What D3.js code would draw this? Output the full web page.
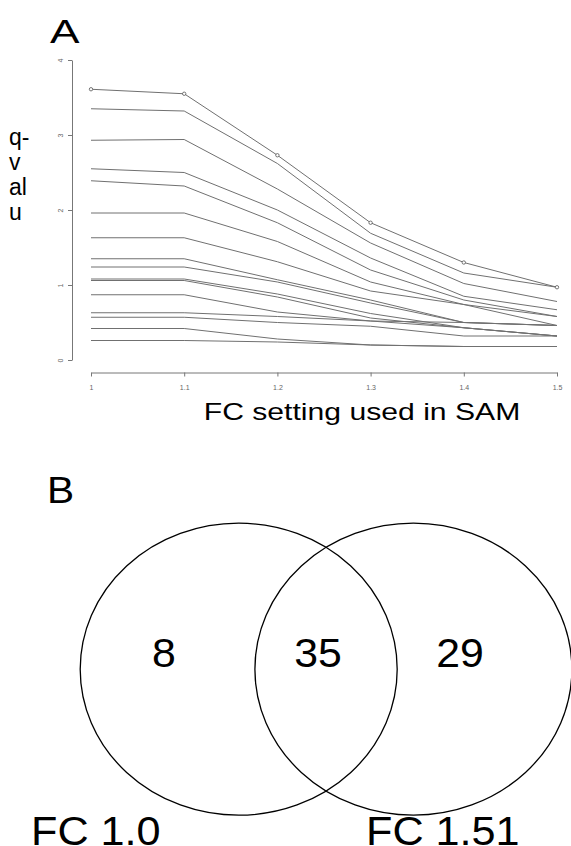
<!DOCTYPE html>
<html>
<head>
<meta charset="utf-8">
<script src="https://cdn.jsdelivr.net/npm/d3@7/dist/d3.min.js"></script>
<style>
  html, body { margin: 0; padding: 0; background: #fff; }
  svg { display: block; }
  text { font-family: "Liberation Sans", Arial, sans-serif; }
</style>
</head>
<body>
<svg id="chart" width="571" height="846"></svg>
<script>
// ---------- Data ----------
const fcSettings = [1, 1.1, 1.2, 1.3, 1.4, 1.5];
const xTickLabels = ["1", "1.1", "1.2", "1.3", "1.4", "1.5"];
const yTicks = [0, 1, 2, 3, 4];
// q-values for each gene across FC settings
const qValues = [
  [3.61, 3.55, 2.73, 1.83, 1.30, 0.97],
  [3.35, 3.32, 2.62, 1.69, 1.16, 0.97],
  [2.93, 2.94, 2.28, 1.56, 1.02, 0.78],
  [2.55, 2.50, 2.00, 1.36, 0.85, 0.67],
  [2.39, 2.32, 1.83, 1.20, 0.80, 0.58],
  [1.96, 1.96, 1.58, 1.04, 0.74, 0.58],
  [1.63, 1.63, 1.31, 0.92, 0.74, 0.46],
  [1.35, 1.35, 1.07, 0.80, 0.50, 0.46],
  [1.24, 1.24, 1.04, 0.76, 0.50, 0.46],
  [1.08, 1.08, 0.88, 0.62, 0.43, 0.32],
  [1.06, 1.06, 0.84, 0.56, 0.43, 0.32],
  [0.87, 0.87, 0.64, 0.52, 0.43, 0.32],
  [0.63, 0.63, 0.58, 0.52, 0.50, 0.46],
  [0.57, 0.57, 0.50, 0.45, 0.32, 0.32],
  [0.42, 0.42, 0.28, 0.20, 0.18, 0.18],
  [0.26, 0.26, 0.24, 0.20, 0.18, 0.18]
];
const markedSeries = [0];
const yLabelLines = ["q-", "v", "al", "u"];
const xTitle = "FC setting used in SAM";

const vennCounts = [8, 35, 29];           // only FC1.0, both, only FC1.51
const vennSetLabels = ["FC 1.0", "FC 1.51"];

// ---------- Panel A ----------
const svg = d3.select("#chart");
const x = d3.scaleLinear().domain([1, 1.5]).range([91, 557]);
const y = d3.scaleLinear().domain([0, 4]).range([360, 60]);

svg.append("text").text("A")
  .attr("transform", "translate(50,43) scale(1.3,1)")
  .attr("font-size", 34).attr("fill", "#000");

// y label (broken into lines)
svg.append("g").selectAll("text").data(yLabelLines).join("text")
  .attr("x", 9).attr("y", (d, i) => 145 + i * 25)
  .attr("font-size", 23).attr("fill", "#000")
  .text(d => d);

const axisColor = "#777";
const gx = svg.append("g").attr("transform", `translate(0,${y(0) + 12.5})`)
  .call(d3.axisBottom(x).tickValues(fcSettings).tickFormat((d, i) => xTickLabels[i])
    .tickSize(4).tickSizeOuter(0));
gx.select(".domain").attr("stroke", axisColor);
gx.selectAll(".tick line").attr("stroke", axisColor);
gx.selectAll(".tick text").attr("font-size", 7).attr("fill", "#666").attr("y", 13)
  .attr("font-family", "Liberation Sans, Arial, sans-serif");

const gy = svg.append("g").attr("transform", `translate(72,0)`)
  .call(d3.axisLeft(y).tickValues(yTicks).tickFormat(d3.format("d"))
    .tickSize(4).tickSizeOuter(0));
gy.select(".domain").attr("stroke", axisColor);
gy.selectAll(".tick line").attr("stroke", axisColor);
gy.selectAll(".tick text").attr("font-size", 7).attr("fill", "#666")
  .attr("font-family", "Liberation Sans, Arial, sans-serif")
  .attr("x", null).attr("dy", null)
  .attr("text-anchor", "middle")
  .attr("transform", "translate(-12,0) rotate(-90)")
  .attr("y", 2.5);

const line = d3.line().x((d, i) => x(fcSettings[i])).y(d => y(d));
svg.append("g").selectAll("path").data(qValues).join("path")
  .attr("d", d => line(d))
  .attr("fill", "none").attr("stroke", "#707070").attr("stroke-width", 1);

markedSeries.forEach(si => {
  svg.append("g").selectAll("circle").data(qValues[si]).join("circle")
    .attr("cx", (d, i) => x(fcSettings[i])).attr("cy", d => y(d))
    .attr("r", 1.7).attr("fill", "#fff").attr("stroke", "#555").attr("stroke-width", 0.8);
});

svg.append("g").attr("transform", "translate(362,419.5)")
  .append("text").text(xTitle)
  .attr("text-anchor", "middle")
  .attr("transform", "scale(1.23,1)")
  .attr("font-size", 24.5).attr("fill", "#000");

// ---------- Panel B (Venn) ----------
svg.append("text").text("B")
  .attr("transform", "translate(47,503) scale(1.1,1)")
  .attr("font-size", 37).attr("fill", "#000");

const vx = d3.scaleLinear().domain([0, 1]).range([238.7, 413.4]);
const vy = 669.2, rx = 158.5, ry = 146;
svg.append("g").selectAll("ellipse").data([0, 1]).join("ellipse")
  .attr("cx", d => vx(d)).attr("cy", vy).attr("rx", rx).attr("ry", ry)
  .attr("fill", "none").attr("stroke", "#000").attr("stroke-width", 1.3);

const countX = [164, 318, 460];
svg.append("g").selectAll("text").data(vennCounts).join("text")
  .attr("text-anchor", "middle")
  .attr("transform", (d, i) => `translate(${countX[i]},666.5) scale(1.07,1)`)
  .attr("font-size", 40).attr("fill", "#000")
  .text(d => d);

const labelX = [31, 366];
svg.append("g").selectAll("text").data(vennSetLabels).join("text")
  .attr("transform", (d, i) => `translate(${labelX[i]},845) scale(1.08,1)`)
  .attr("font-size", 40).attr("fill", "#000")
  .text(d => d);
</script>
</body>
</html>
